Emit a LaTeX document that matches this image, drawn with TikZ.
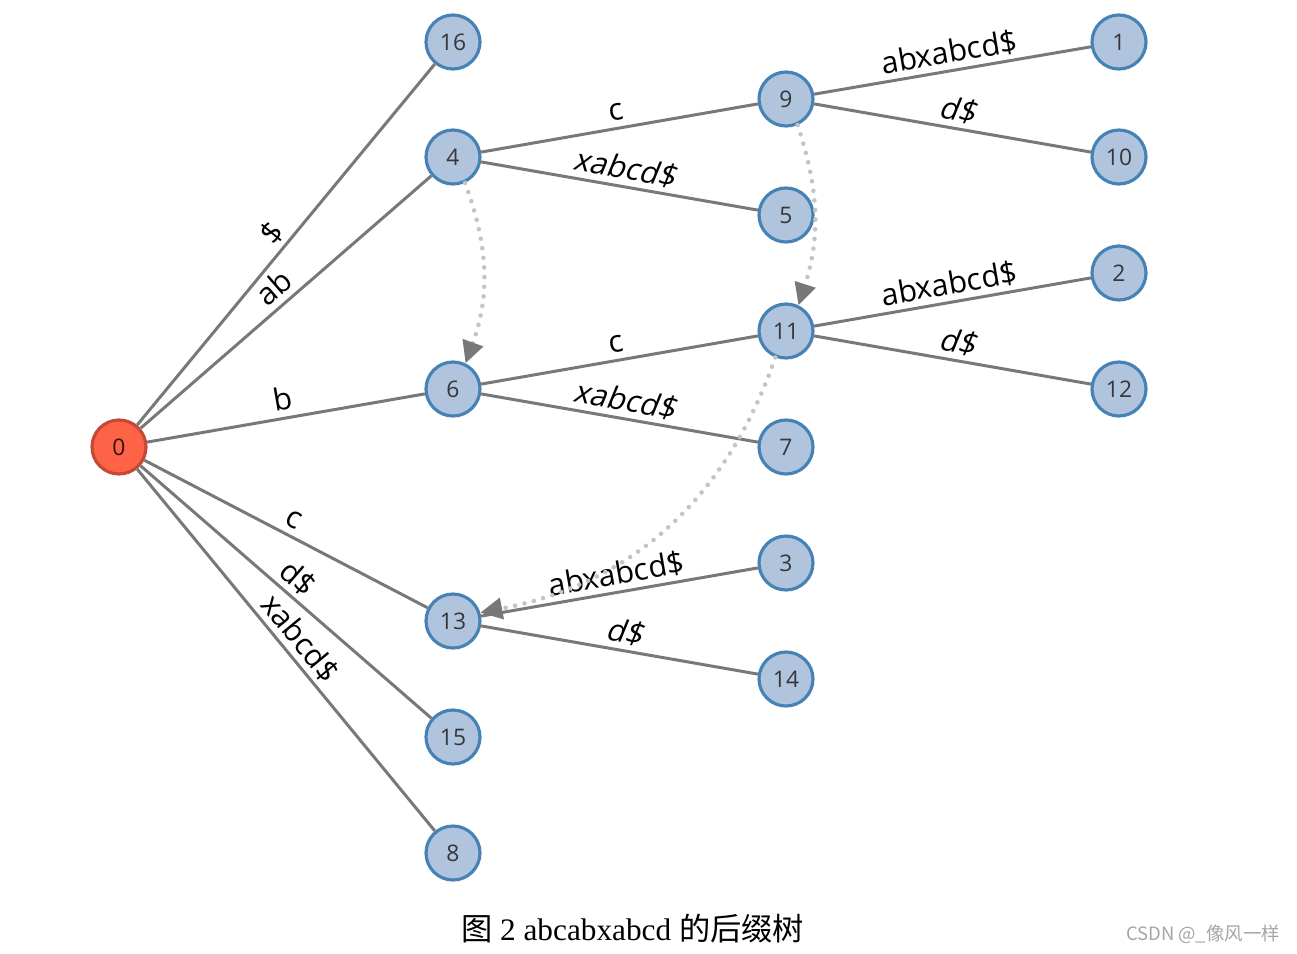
\documentclass[tikz,border=0pt]{standalone}
\usepackage{fontspec}
\setmainfont{Open Sans}
\newfontfamily\capserif{Liberation Serif}
\newfontfamily\cjk{Noto Sans CJK SC}
\usepackage{tikz}
\usetikzlibrary{arrows.meta}
\usepackage{xcolor}
\definecolor{vertFill}{RGB}{176, 196, 222}
\definecolor{vertLine}{RGB}{70, 130, 180}
\definecolor{rootFill}{RGB}{255, 99, 71}
\definecolor{rootLine}{RGB}{196, 74, 54}
\definecolor{edgeGray}{RGB}{120, 120, 120}
\definecolor{linkGray}{RGB}{196, 196, 196}
\definecolor{numText}{RGB}{55, 55, 55}
\definecolor{markGray}{RGB}{165, 165, 165}

\begin{document}
\begin{tikzpicture}[
  x=0.02cm, y=-0.02cm,
  vert/.style={circle, draw=vertLine, fill=vertFill, line width=1.8pt, minimum size=1.08cm,
    inner sep=0pt, text=numText, font=\fontsize{13}{15}\selectfont},
  root/.style={vert, draw=rootLine, fill=rootFill, text=black!75!rootLine},
  branch/.style={draw=edgeGray, line width=1.7pt},
  lab/.style={sloped, above, inner sep=4.5pt, outer sep=0pt, text depth=0pt,
    font=\fontsize{17.4}{20}\selectfont},
  skewlab/.style={lab, xslant=0.22},
  link/.style={draw=linkGray, line width=2.6pt, line cap=round, dash pattern=on 0pt off 5.5pt,
    -{Triangle[length=0.44cm, width=0.42cm, color=edgeGray]}}
]
  \useasboundingbox (0,0) rectangle (1297,953);

  % root and internal nodes
  \node[root] (n0) at (119,447) {0};
  \node[vert] (n4)  at (453,157) {4};
  \node[vert] (n6)  at (453,389) {6};
  \node[vert] (n13) at (453,621) {13};
  \node[vert] (n9)  at (786,99)  {9};
  \node[vert] (n11) at (786,331) {11};
  % leaves
  \node[vert] (n16) at (453,42)  {16};
  \node[vert] (n15) at (453,737) {15};
  \node[vert] (n8)  at (453,853) {8};
  \node[vert] (n5)  at (786,215) {5};
  \node[vert] (n7)  at (786,447) {7};
  \node[vert] (n3)  at (786,563) {3};
  \node[vert] (n14) at (786,679) {14};
  \node[vert] (n1)  at (1119,42)  {1};
  \node[vert] (n10) at (1119,157) {10};
  \node[vert] (n2)  at (1119,273) {2};
  \node[vert] (n12) at (1119,389) {12};

  % tree edges
  \draw[branch] (n0) -- node[lab] {\$} (n16);
  \draw[branch] (n0) -- node[lab] {ab} (n4);
  \draw[branch] (n0) -- node[lab] {b} (n6);
  \draw[branch] (n0) -- node[lab] {c} (n13);
  \draw[branch] (n0) -- node[lab] {d\$} (n15);
  \draw[branch] (n0) -- node[lab] {xabcd\$} (n8);
  \draw[branch] (n4) -- node[lab] {c} (n9);
  \draw[branch] (n4) -- node[skewlab] {xabcd\$} (n5);
  \draw[branch] (n6) -- node[lab] {c} (n11);
  \draw[branch] (n6) -- node[skewlab] {xabcd\$} (n7);
  \draw[branch] (n13) -- node[lab] {abxabcd\$} (n3);
  \draw[branch] (n13) -- node[skewlab] {d\$} (n14);
  \draw[branch] (n9) -- node[lab] {abxabcd\$} (n1);
  \draw[branch] (n9) -- node[skewlab] {d\$} (n10);
  \draw[branch] (n11) -- node[lab] {abxabcd\$} (n2);
  \draw[branch] (n11) -- node[skewlab] {d\$} (n12);

  % suffix links
  \draw[link] (n4.-65) to[bend left=20] (n6.64);
  \draw[link] (n9.-66) to[bend left=18] (n11.64);
  \draw[link] (n11.-112) to[bend left=30] (n13.17);

  % caption
  \node[font=\fontsize{17.8}{20}\selectfont] (cap) at (633,929)
    {\cjk 图 \capserif 2 abcabxabcd \cjk 的后缀树};
  \node[text=markGray, font=\cjk\fontsize{10.5}{12}\selectfont] (mark) at (1203,934)
    {CSDN @\_像风一样};
\end{tikzpicture}
\end{document}
